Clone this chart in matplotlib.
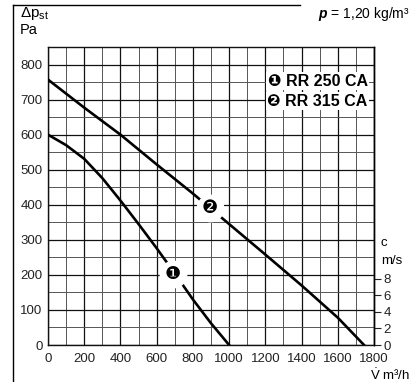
import matplotlib
matplotlib.use('Agg')
import matplotlib.pyplot as plt

plt.rcParams['font.family'] = ['Liberation Sans', 'DejaVu Sans']
plt.rcParams['mathtext.fontset'] = 'custom'
plt.rcParams['mathtext.rm'] = 'Liberation Sans'
plt.rcParams['mathtext.it'] = 'Liberation Sans:italic'
plt.rcParams['mathtext.bf'] = 'Liberation Sans:italic:bold'

# fan curves, flow m3/h vs static pressure Pa
flow_250 = [0, 100, 200, 300, 400, 500, 600, 700, 800, 900, 1000]
dp_250 = [600, 570, 531, 476, 412, 345, 276, 204, 130, 62, 0]
flow_315 = [0, 200, 400, 600, 800, 1000, 1200, 1400, 1600, 1745]
dp_315 = [757, 677, 600, 515, 432, 345, 258, 170, 78, 0]

names = ['RR 250 CA', 'RR 315 CA']
marks = ['\u2776', '\u2777']
mark_pos = [(690, 203), (894, 390)]

x_ticks = list(range(0, 1801, 200))
y_ticks = list(range(0, 801, 100))
c_ticks = [0, 2, 4, 6, 8]
pa_per_ms = 23.7

fig = plt.figure(figsize=(4.12, 3.82), dpi=100)
ax = fig.add_axes([48 / 412, 37 / 382, 326 / 412, 298 / 382])

ax.set_xlim(0, 1800)
ax.set_ylim(0, 850)
ax.set_xticks(x_ticks)
ax.set_yticks(y_ticks)
ax.set_xticks(range(0, 1801, 100), minor=True)
ax.set_yticks(range(0, 851, 50), minor=True)
ax.grid(which='major', color='#111111', lw=0.9)
ax.grid(which='minor', color='#555555', lw=0.7)
ax.tick_params(which='both', length=0, labelsize=9.5, colors='#222222')
ax.tick_params(axis='x', pad=6)
ax.tick_params(axis='y', pad=4)
for s in ax.spines.values():
    s.set_linewidth(1.0)
    s.set_color('#111111')

ax.plot(flow_250, dp_250, color='black', lw=1.9, zorder=3)
ax.plot(flow_315, dp_315, color='black', lw=1.9, zorder=3)

for (mx, my), m in zip(mark_pos, marks):
    ax.plot(mx, my, 'o', ms=19, color='white', zorder=4)
    ax.text(mx, my, m, fontsize=13, family='DejaVu Sans', ha='center',
            va='center', color='black', zorder=5)

# legend block
for i, (m, n) in enumerate(zip(marks, names)):
    ax.text(1765, 752 - 57 * i, m + ' ' + n, fontsize=11.5, fontweight='bold',
            ha='right', va='center', zorder=5,
            bbox=dict(facecolor='white', edgecolor='none', pad=1.0))

# right scale for velocity
ax2 = ax.twinx()
ax2.set_ylim(0, 850 / pa_per_ms)
ax2.set_yticks(c_ticks)
ax2.tick_params(axis='y', length=5, width=0.8, labelsize=9.5, pad=2,
                colors='#222222')
for s in ['top', 'left', 'bottom']:
    ax2.spines[s].set_visible(False)
ax2.spines['right'].set_linewidth(1.0)

fig.text(384 / 412, 1 - 243 / 382, 'c', fontsize=9.5, ha='center', va='center')
fig.text(392 / 412, 1 - 261 / 382, 'm/s', fontsize=9.5, ha='center', va='center')

fig.text(20 / 412, 1 - 14 / 382, '\u0394p$_{\\mathrm{st}}$', fontsize=11,
         ha='left', va='center')
fig.text(20 / 412, 1 - 30 / 382, 'Pa', fontsize=10.5, ha='left', va='center')
fig.text(410 / 412, 1 - 14 / 382, '$\\mathbf{p}$ = 1,20 kg/m\u00b3', fontsize=10,
         ha='right', va='center')
fig.text(410 / 412, 1 - 375 / 382, '$\\dot{\\mathrm{V}}$ m\u00b3/h', fontsize=9.5,
         ha='right', va='center')

# frame lines of the sheet
fig.add_artist(plt.Line2D([13 / 412, 13 / 412], [0, 1 - 5 / 382],
                          color='black', lw=1.0))
fig.add_artist(plt.Line2D([13 / 412, 300 / 412], [1 - 5 / 382, 1 - 5 / 382],
                          color='black', lw=1.0))

fig.savefig('out.png', dpi=100)
